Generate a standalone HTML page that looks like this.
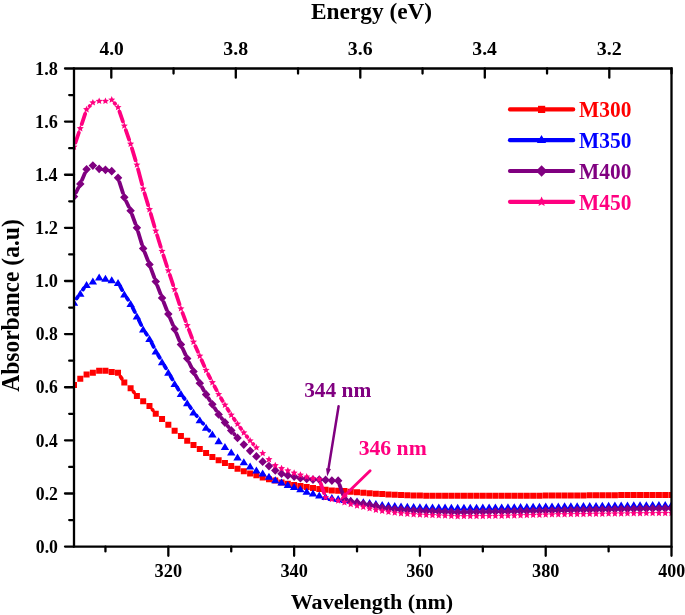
<!DOCTYPE html>
<html><head><meta charset="utf-8"><style>
html,body{margin:0;padding:0;background:#fff;}
body{width:685px;height:615px;overflow:hidden;font-family:"Liberation Serif",serif;}
svg{display:block;will-change:transform;}
</style></head><body><svg width="685" height="615" viewBox="0 0 685 615"><defs><clipPath id="c"><rect x="74.0" y="68.5" width="597.50" height="478.10"/></clipPath></defs><g clip-path="url(#c)"><path d="M120.53,376.66L121.81,378.64M133.49,391.78L134.01,392.42M152.41,409.64L152.83,410.16" fill="none" stroke="#FF0000" stroke-width="3.8" stroke-linecap="round"/><path d="M71.00,382.00h6.0v6.0h-6.0zM77.29,375.80h6.0v6.0h-6.0zM83.58,371.40h6.0v6.0h-6.0zM89.87,369.80h6.0v6.0h-6.0zM96.16,367.70h6.0v6.0h-6.0zM102.45,367.80h6.0v6.0h-6.0zM108.74,369.00h6.0v6.0h-6.0zM115.03,369.80h6.0v6.0h-6.0zM121.32,379.50h6.0v6.0h-6.0zM127.61,385.20h6.0v6.0h-6.0zM133.89,393.00h6.0v6.0h-6.0zM140.18,398.20h6.0v6.0h-6.0zM146.47,403.10h6.0v6.0h-6.0zM152.76,410.70h6.0v6.0h-6.0zM159.05,416.10h6.0v6.0h-6.0zM165.34,421.80h6.0v6.0h-6.0zM171.63,427.70h6.0v6.0h-6.0zM177.92,432.90h6.0v6.0h-6.0zM184.21,437.70h6.0v6.0h-6.0zM190.50,442.00h6.0v6.0h-6.0zM196.79,445.90h6.0v6.0h-6.0zM203.08,449.90h6.0v6.0h-6.0zM209.37,454.00h6.0v6.0h-6.0zM215.66,457.30h6.0v6.0h-6.0zM221.95,459.90h6.0v6.0h-6.0zM228.24,463.10h6.0v6.0h-6.0zM234.53,465.70h6.0v6.0h-6.0zM240.82,468.30h6.0v6.0h-6.0zM247.11,470.40h6.0v6.0h-6.0zM253.39,472.30h6.0v6.0h-6.0zM259.68,474.40h6.0v6.0h-6.0zM265.97,476.20h6.0v6.0h-6.0zM272.26,477.60h6.0v6.0h-6.0zM278.55,479.40h6.0v6.0h-6.0zM284.84,480.70h6.0v6.0h-6.0zM291.13,481.90h6.0v6.0h-6.0zM297.42,483.00h6.0v6.0h-6.0zM303.71,484.10h6.0v6.0h-6.0zM310.00,485.05h6.0v6.0h-6.0zM316.29,486.00h6.0v6.0h-6.0zM322.58,486.75h6.0v6.0h-6.0zM328.87,487.50h6.0v6.0h-6.0zM335.16,487.75h6.0v6.0h-6.0zM341.45,488.00h6.0v6.0h-6.0zM347.74,488.65h6.0v6.0h-6.0zM354.03,489.30h6.0v6.0h-6.0zM360.32,489.75h6.0v6.0h-6.0zM366.61,490.20h6.0v6.0h-6.0zM372.89,490.65h6.0v6.0h-6.0zM379.18,491.10h6.0v6.0h-6.0zM385.47,491.40h6.0v6.0h-6.0zM391.76,491.70h6.0v6.0h-6.0zM398.05,491.95h6.0v6.0h-6.0zM404.34,492.20h6.0v6.0h-6.0zM410.63,492.40h6.0v6.0h-6.0zM416.92,492.60h6.0v6.0h-6.0zM423.21,492.63h6.0v6.0h-6.0zM429.50,492.67h6.0v6.0h-6.0zM435.79,492.70h6.0v6.0h-6.0zM442.08,492.73h6.0v6.0h-6.0zM448.37,492.77h6.0v6.0h-6.0zM454.66,492.80h6.0v6.0h-6.0zM460.95,492.80h6.0v6.0h-6.0zM467.24,492.80h6.0v6.0h-6.0zM473.53,492.80h6.0v6.0h-6.0zM479.82,492.80h6.0v6.0h-6.0zM486.11,492.80h6.0v6.0h-6.0zM492.39,492.80h6.0v6.0h-6.0zM498.68,492.80h6.0v6.0h-6.0zM504.97,492.78h6.0v6.0h-6.0zM511.26,492.75h6.0v6.0h-6.0zM517.55,492.73h6.0v6.0h-6.0zM523.84,492.70h6.0v6.0h-6.0zM530.13,492.68h6.0v6.0h-6.0zM536.42,492.65h6.0v6.0h-6.0zM542.71,492.62h6.0v6.0h-6.0zM549.00,492.60h6.0v6.0h-6.0zM555.29,492.56h6.0v6.0h-6.0zM561.58,492.51h6.0v6.0h-6.0zM567.87,492.47h6.0v6.0h-6.0zM574.16,492.42h6.0v6.0h-6.0zM580.45,492.38h6.0v6.0h-6.0zM586.74,492.33h6.0v6.0h-6.0zM593.03,492.29h6.0v6.0h-6.0zM599.32,492.24h6.0v6.0h-6.0zM605.61,492.20h6.0v6.0h-6.0zM611.89,492.16h6.0v6.0h-6.0zM618.18,492.11h6.0v6.0h-6.0zM624.47,492.07h6.0v6.0h-6.0zM630.76,492.03h6.0v6.0h-6.0zM637.05,491.99h6.0v6.0h-6.0zM643.34,491.94h6.0v6.0h-6.0zM649.63,491.90h6.0v6.0h-6.0zM655.92,491.90h6.0v6.0h-6.0zM662.21,491.90h6.0v6.0h-6.0zM668.50,491.90h6.0v6.0h-6.0z" fill="#FF0000"/><path d="M76.63,298.53L77.65,297.07M82.94,289.54L83.92,288.16M120.20,286.45L122.14,290.05M126.86,297.94L128.07,299.76M132.67,307.71L134.83,311.99M138.90,320.24L141.18,324.96M145.72,332.94L146.93,334.76M151.55,342.70L153.68,346.90M158.08,354.98L159.74,357.82M164.43,365.74L165.96,368.26M170.59,376.21L172.38,379.39M177.05,387.32L178.51,389.68M183.54,397.38L184.60,398.92M189.79,406.51L190.92,408.19M196.41,415.56L196.88,416.14M202.75,423.22L203.12,423.68M209.20,430.58L209.24,430.62" fill="none" stroke="#0000FF" stroke-width="3.8" stroke-linecap="round"/><path d="M74.00,298.80L78.20,305.80L69.80,305.80zM80.29,289.80L84.49,296.80L76.09,296.80zM86.58,280.90L90.78,287.90L82.38,287.90zM92.87,277.50L97.07,284.50L88.67,284.50zM99.16,273.60L103.36,280.60L94.96,280.60zM105.45,274.70L109.65,281.70L101.25,281.70zM111.74,276.30L115.94,283.30L107.54,283.30zM118.03,278.90L122.23,285.90L113.83,285.90zM124.32,290.60L128.52,297.60L120.12,297.60zM130.61,300.10L134.81,307.10L126.41,307.10zM136.89,312.60L141.09,319.60L132.69,319.60zM143.18,325.60L147.38,332.60L138.98,332.60zM149.47,335.10L153.67,342.10L145.27,342.10zM155.76,347.50L159.96,354.50L151.56,354.50zM162.05,358.30L166.25,365.30L157.85,365.30zM168.34,368.70L172.54,375.70L164.14,375.70zM174.63,379.90L178.83,386.90L170.43,386.90zM180.92,390.10L185.12,397.10L176.72,397.10zM187.21,399.20L191.41,406.20L183.01,406.20zM193.50,408.50L197.70,415.50L189.30,415.50zM199.79,416.20L203.99,423.20L195.59,423.20zM206.08,423.70L210.28,430.70L201.88,430.70zM212.37,430.50L216.57,437.50L208.17,437.50zM218.66,437.20L222.86,444.20L214.46,444.20zM224.95,442.90L229.15,449.90L220.75,449.90zM231.24,448.50L235.44,455.50L227.04,455.50zM237.53,453.50L241.73,460.50L233.33,460.50zM243.82,458.20L248.02,465.20L239.62,465.20zM250.11,462.60L254.31,469.60L245.91,469.60zM256.39,466.40L260.59,473.40L252.19,473.40zM262.68,469.60L266.88,476.60L258.48,476.60zM268.97,472.70L273.17,479.70L264.77,479.70zM275.26,476.20L279.46,483.20L271.06,483.20zM281.55,478.60L285.75,485.60L277.35,485.60zM287.84,481.10L292.04,488.10L283.64,488.10zM294.13,483.00L298.33,490.00L289.93,490.00zM300.42,485.20L304.62,492.20L296.22,492.20zM306.71,487.80L310.91,494.80L302.51,494.80zM313.00,489.60L317.20,496.60L308.80,496.60zM319.29,491.50L323.49,498.50L315.09,498.50zM325.58,493.00L329.78,500.00L321.38,500.00zM331.87,494.00L336.07,501.00L327.67,501.00zM338.16,495.00L342.36,502.00L333.96,502.00zM344.45,495.90L348.65,502.90L340.25,502.90zM350.74,496.80L354.94,503.80L346.54,503.80zM357.03,497.60L361.23,504.60L352.83,504.60zM363.32,498.35L367.52,505.35L359.12,505.35zM369.61,499.10L373.81,506.10L365.41,506.10zM375.89,500.10L380.09,507.10L371.69,507.10zM382.18,501.10L386.38,508.10L377.98,508.10zM388.47,501.60L392.67,508.60L384.27,508.60zM394.76,502.10L398.96,509.10L390.56,509.10zM401.05,502.40L405.25,509.40L396.85,509.40zM407.34,502.70L411.54,509.70L403.14,509.70zM413.63,502.95L417.83,509.95L409.43,509.95zM419.92,503.20L424.12,510.20L415.72,510.20zM426.21,503.30L430.41,510.30L422.01,510.30zM432.50,503.40L436.70,510.40L428.30,510.40zM438.79,503.50L442.99,510.50L434.59,510.50zM445.08,503.60L449.28,510.60L440.88,510.60zM451.37,503.70L455.57,510.70L447.17,510.70zM457.66,503.80L461.86,510.80L453.46,510.80zM463.95,503.74L468.15,510.74L459.75,510.74zM470.24,503.69L474.44,510.69L466.04,510.69zM476.53,503.63L480.73,510.63L472.33,510.63zM482.82,503.57L487.02,510.57L478.62,510.57zM489.11,503.51L493.31,510.51L484.91,510.51zM495.39,503.46L499.59,510.46L491.19,510.46zM501.68,503.40L505.88,510.40L497.48,510.40zM507.97,503.29L512.17,510.29L503.77,510.29zM514.26,503.17L518.46,510.17L510.06,510.17zM520.55,503.06L524.75,510.06L516.35,510.06zM526.84,502.95L531.04,509.95L522.64,509.95zM533.13,502.84L537.33,509.84L528.93,509.84zM539.42,502.73L543.62,509.73L535.22,509.73zM545.71,502.61L549.91,509.61L541.51,509.61zM552.00,502.50L556.20,509.50L547.80,509.50zM558.29,502.41L562.49,509.41L554.09,509.41zM564.58,502.32L568.78,509.32L560.38,509.32zM570.87,502.23L575.07,509.23L566.67,509.23zM577.16,502.14L581.36,509.14L572.96,509.14zM583.45,502.06L587.65,509.06L579.25,509.06zM589.74,501.97L593.94,508.97L585.54,508.97zM596.03,501.88L600.23,508.88L591.83,508.88zM602.32,501.79L606.52,508.79L598.12,508.79zM608.61,501.70L612.81,508.70L604.41,508.70zM614.89,501.61L619.09,508.61L610.69,508.61zM621.18,501.53L625.38,508.53L616.98,508.53zM627.47,501.44L631.67,508.44L623.27,508.44zM633.76,501.36L637.96,508.36L629.56,508.36zM640.05,501.27L644.25,508.27L635.85,508.27zM646.34,501.19L650.54,508.19L642.14,508.19zM652.63,501.10L656.83,508.10L648.43,508.10zM658.92,501.07L663.12,508.07L654.72,508.07zM665.21,501.03L669.41,508.03L661.01,508.03zM671.50,501.00L675.70,508.00L667.30,508.00z" fill="#0000FF"/><path d="M76.04,192.48L78.25,188.02M82.11,179.68L84.76,173.52M119.44,182.18L122.90,192.92M126.27,201.46L128.65,206.54M132.19,215.02L135.31,223.48M138.23,232.20L141.85,244.10M144.87,252.78L147.79,260.22M151.06,268.82L154.18,277.28M157.42,285.89L160.40,293.61M163.72,302.19L166.68,309.81M170.13,318.34L172.84,324.76M176.36,333.26L179.19,340.24M182.79,348.70L185.34,354.40M189.23,362.73L191.48,367.37M195.68,375.55L197.61,379.15M202.03,387.22L203.84,390.48M208.56,398.37L209.88,400.43M214.80,408.20L216.23,410.50M221.48,418.03L222.13,418.87M227.79,426.12L228.39,426.88M234.22,434.01L234.55,434.39M339.65,485.05L342.95,494.65" fill="none" stroke="#800080" stroke-width="3.8" stroke-linecap="round"/><path d="M74.00,192.20L78.25,196.60L74.00,201.00L69.75,196.60zM80.29,179.50L84.54,183.90L80.29,188.30L76.04,183.90zM86.58,164.90L90.83,169.30L86.58,173.70L82.33,169.30zM92.87,161.20L97.12,165.60L92.87,170.00L88.62,165.60zM99.16,164.40L103.41,168.80L99.16,173.20L94.91,168.80zM105.45,165.40L109.70,169.80L105.45,174.20L101.20,169.80zM111.74,166.80L115.99,171.20L111.74,175.60L107.49,171.20zM118.03,173.40L122.28,177.80L118.03,182.20L113.78,177.80zM124.32,192.90L128.57,197.30L124.32,201.70L120.07,197.30zM130.61,206.30L134.86,210.70L130.61,215.10L126.36,210.70zM136.89,223.40L141.14,227.80L136.89,232.20L132.64,227.80zM143.18,244.10L147.43,248.50L143.18,252.90L138.93,248.50zM149.47,260.10L153.72,264.50L149.47,268.90L145.22,264.50zM155.76,277.20L160.01,281.60L155.76,286.00L151.51,281.60zM162.05,293.50L166.30,297.90L162.05,302.30L157.80,297.90zM168.34,309.70L172.59,314.10L168.34,318.50L164.09,314.10zM174.63,324.60L178.88,329.00L174.63,333.40L170.38,329.00zM180.92,340.10L185.17,344.50L180.92,348.90L176.67,344.50zM187.21,354.20L191.46,358.60L187.21,363.00L182.96,358.60zM193.50,367.10L197.75,371.50L193.50,375.90L189.25,371.50zM199.79,378.80L204.04,383.20L199.79,387.60L195.54,383.20zM206.08,390.10L210.33,394.50L206.08,398.90L201.83,394.50zM212.37,399.90L216.62,404.30L212.37,408.70L208.12,404.30zM218.66,410.00L222.91,414.40L218.66,418.80L214.41,414.40zM224.95,418.10L229.20,422.50L224.95,426.90L220.70,422.50zM231.24,426.10L235.49,430.50L231.24,434.90L226.99,430.50zM237.53,433.50L241.78,437.90L237.53,442.30L233.28,437.90zM243.82,440.20L248.07,444.60L243.82,449.00L239.57,444.60zM250.11,446.40L254.36,450.80L250.11,455.20L245.86,450.80zM256.39,452.00L260.64,456.40L256.39,460.80L252.14,456.40zM262.68,457.30L266.93,461.70L262.68,466.10L258.43,461.70zM268.97,461.70L273.22,466.10L268.97,470.50L264.72,466.10zM275.26,466.00L279.51,470.40L275.26,474.80L271.01,470.40zM281.55,469.30L285.80,473.70L281.55,478.10L277.30,473.70zM287.84,471.00L292.09,475.40L287.84,479.80L283.59,475.40zM294.13,472.20L298.38,476.60L294.13,481.00L289.88,476.60zM300.42,473.80L304.67,478.20L300.42,482.60L296.17,478.20zM306.71,474.50L310.96,478.90L306.71,483.30L302.46,478.90zM313.00,475.20L317.25,479.60L313.00,484.00L308.75,479.60zM319.29,475.20L323.54,479.60L319.29,484.00L315.04,479.60zM325.58,475.50L329.83,479.90L325.58,484.30L321.33,479.90zM331.87,476.20L336.12,480.60L331.87,485.00L327.62,480.60zM338.16,476.30L342.41,480.70L338.16,485.10L333.91,480.70zM344.45,494.60L348.70,499.00L344.45,503.40L340.20,499.00zM350.74,497.00L354.99,501.40L350.74,505.80L346.49,501.40zM357.03,498.20L361.28,502.60L357.03,507.00L352.78,502.60zM363.32,499.40L367.57,503.80L363.32,508.20L359.07,503.80zM369.61,500.60L373.86,505.00L369.61,509.40L365.36,505.00zM375.89,501.60L380.14,506.00L375.89,510.40L371.64,506.00zM382.18,503.60L386.43,508.00L382.18,512.40L377.93,508.00zM388.47,504.25L392.72,508.65L388.47,513.05L384.22,508.65zM394.76,504.90L399.01,509.30L394.76,513.70L390.51,509.30zM401.05,505.35L405.30,509.75L401.05,514.15L396.80,509.75zM407.34,505.80L411.59,510.20L407.34,514.60L403.09,510.20zM413.63,506.15L417.88,510.55L413.63,514.95L409.38,510.55zM419.92,506.50L424.17,510.90L419.92,515.30L415.67,510.90zM426.21,506.73L430.46,511.13L426.21,515.53L421.96,511.13zM432.50,506.97L436.75,511.37L432.50,515.77L428.25,511.37zM438.79,507.20L443.04,511.60L438.79,516.00L434.54,511.60zM445.08,507.43L449.33,511.83L445.08,516.23L440.83,511.83zM451.37,507.67L455.62,512.07L451.37,516.47L447.12,512.07zM457.66,507.90L461.91,512.30L457.66,516.70L453.41,512.30zM463.95,507.80L468.20,512.20L463.95,516.60L459.70,512.20zM470.24,507.70L474.49,512.10L470.24,516.50L465.99,512.10zM476.53,507.60L480.78,512.00L476.53,516.40L472.28,512.00zM482.82,507.50L487.07,511.90L482.82,516.30L478.57,511.90zM489.11,507.40L493.36,511.80L489.11,516.20L484.86,511.80zM495.39,507.30L499.64,511.70L495.39,516.10L491.14,511.70zM501.68,507.20L505.93,511.60L501.68,516.00L497.43,511.60zM507.97,507.09L512.22,511.49L507.97,515.89L503.72,511.49zM514.26,506.98L518.51,511.38L514.26,515.77L510.01,511.38zM520.55,506.86L524.80,511.26L520.55,515.66L516.30,511.26zM526.84,506.75L531.09,511.15L526.84,515.55L522.59,511.15zM533.13,506.64L537.38,511.04L533.13,515.44L528.88,511.04zM539.42,506.53L543.67,510.93L539.42,515.33L535.17,510.93zM545.71,506.41L549.96,510.81L545.71,515.21L541.46,510.81zM552.00,506.30L556.25,510.70L552.00,515.10L547.75,510.70zM558.29,506.18L562.54,510.58L558.29,514.98L554.04,510.58zM564.58,506.06L568.83,510.46L564.58,514.86L560.33,510.46zM570.87,505.93L575.12,510.33L570.87,514.73L566.62,510.33zM577.16,505.81L581.41,510.21L577.16,514.61L572.91,510.21zM583.45,505.69L587.70,510.09L583.45,514.49L579.20,510.09zM589.74,505.57L593.99,509.97L589.74,514.37L585.49,509.97zM596.03,505.44L600.28,509.84L596.03,514.24L591.78,509.84zM602.32,505.32L606.57,509.72L602.32,514.12L598.07,509.72zM608.61,505.20L612.86,509.60L608.61,514.00L604.36,509.60zM614.89,505.07L619.14,509.47L614.89,513.87L610.64,509.47zM621.18,504.94L625.43,509.34L621.18,513.74L616.93,509.34zM627.47,504.81L631.72,509.21L627.47,513.61L623.22,509.21zM633.76,504.69L638.01,509.09L633.76,513.49L629.51,509.09zM640.05,504.56L644.30,508.96L640.05,513.36L635.80,508.96zM646.34,504.43L650.59,508.83L646.34,513.23L642.09,508.83zM652.63,504.30L656.88,508.70L652.63,513.10L648.38,508.70zM658.92,504.20L663.17,508.60L658.92,513.00L654.67,508.60zM665.21,504.10L669.46,508.50L665.21,512.90L660.96,508.50zM671.50,504.00L675.75,508.40L671.50,512.80L667.25,508.40z" fill="#800080"/><path d="M75.47,142.64L78.82,132.76M81.74,124.04L85.13,113.86M89.68,106.10L89.77,106.00M114.69,103.32L115.07,103.78M119.51,111.66L122.84,121.44M125.82,130.15L129.10,139.65M131.94,148.40L135.56,160.40M138.06,169.25L142.02,184.35M144.52,193.20L148.14,205.10M150.77,213.91L154.47,226.49M157.13,235.29L160.69,246.71M163.46,255.48L166.93,266.22M169.79,274.96L173.18,285.14M176.07,293.87L179.48,304.23M182.53,312.91L185.60,321.09M188.84,329.70L191.87,337.70M195.40,346.19L197.89,351.71M201.64,360.11L204.23,365.99M208.19,374.29L210.26,378.31M214.52,386.47L216.51,390.23M221.01,398.26L222.60,400.94M227.40,408.79L228.79,411.01M233.85,418.68L234.91,420.22M240.22,427.73L241.12,428.97M246.68,436.30L247.24,437.00M253.18,444.02L253.32,444.18M320.80,483.65L324.07,493.05" fill="none" stroke="#FF0080" stroke-width="3.8" stroke-linecap="round"/><path d="M74.00,143.30 L75.02,145.59 L77.52,145.86 L75.65,147.54 L76.17,149.99 L74.00,148.74 L71.83,149.99 L72.35,147.54 L70.48,145.86 L72.98,145.59zM80.29,124.70 L81.31,126.99 L83.81,127.26 L81.94,128.94 L82.46,131.39 L80.29,130.14 L78.11,131.39 L78.64,128.94 L76.77,127.26 L79.27,126.99zM86.58,105.80 L87.60,108.09 L90.10,108.36 L88.23,110.04 L88.75,112.49 L86.58,111.24 L84.40,112.49 L84.93,110.04 L83.06,108.36 L85.56,108.09zM92.87,98.90 L93.89,101.19 L96.39,101.46 L94.52,103.14 L95.04,105.59 L92.87,104.34 L90.69,105.59 L91.21,103.14 L89.35,101.46 L91.85,101.19zM99.16,97.40 L100.18,99.69 L102.68,99.96 L100.81,101.64 L101.33,104.09 L99.16,102.84 L96.98,104.09 L97.50,101.64 L95.64,99.96 L98.14,99.69zM105.45,97.40 L106.47,99.69 L108.97,99.96 L107.10,101.64 L107.62,104.09 L105.45,102.84 L103.27,104.09 L103.79,101.64 L101.93,99.96 L104.43,99.69zM111.74,96.10 L112.76,98.39 L115.26,98.66 L113.39,100.34 L113.91,102.79 L111.74,101.54 L109.56,102.79 L110.08,100.34 L108.22,98.66 L110.71,98.39zM118.03,103.60 L119.05,105.89 L121.55,106.16 L119.68,107.84 L120.20,110.29 L118.03,109.04 L115.85,110.29 L116.37,107.84 L114.51,106.16 L117.00,105.89zM124.32,122.10 L125.34,124.39 L127.83,124.66 L125.97,126.34 L126.49,128.79 L124.32,127.54 L122.14,128.79 L122.66,126.34 L120.80,124.66 L123.29,124.39zM130.61,140.30 L131.63,142.59 L134.12,142.86 L132.26,144.54 L132.78,146.99 L130.61,145.74 L128.43,146.99 L128.95,144.54 L127.09,142.86 L129.58,142.59zM136.89,161.10 L137.92,163.39 L140.41,163.66 L138.55,165.34 L139.07,167.79 L136.89,166.54 L134.72,167.79 L135.24,165.34 L133.38,163.66 L135.87,163.39zM143.18,185.10 L144.21,187.39 L146.70,187.66 L144.84,189.34 L145.36,191.79 L143.18,190.54 L141.01,191.79 L141.53,189.34 L139.67,187.66 L142.16,187.39zM149.47,205.80 L150.50,208.09 L152.99,208.36 L151.13,210.04 L151.65,212.49 L149.47,211.24 L147.30,212.49 L147.82,210.04 L145.95,208.36 L148.45,208.09zM155.76,227.20 L156.79,229.49 L159.28,229.76 L157.42,231.44 L157.94,233.89 L155.76,232.64 L153.59,233.89 L154.11,231.44 L152.24,229.76 L154.74,229.49zM162.05,247.40 L163.07,249.69 L165.57,249.96 L163.71,251.64 L164.23,254.09 L162.05,252.84 L159.88,254.09 L160.40,251.64 L158.53,249.96 L161.03,249.69zM168.34,266.90 L169.36,269.19 L171.86,269.46 L170.00,271.14 L170.52,273.59 L168.34,272.34 L166.17,273.59 L166.69,271.14 L164.82,269.46 L167.32,269.19zM174.63,285.80 L175.65,288.09 L178.15,288.36 L176.29,290.04 L176.81,292.49 L174.63,291.24 L172.46,292.49 L172.98,290.04 L171.11,288.36 L173.61,288.09zM180.92,304.90 L181.94,307.19 L184.44,307.46 L182.57,309.14 L183.10,311.59 L180.92,310.34 L178.75,311.59 L179.27,309.14 L177.40,307.46 L179.90,307.19zM187.21,321.70 L188.23,323.99 L190.73,324.26 L188.86,325.94 L189.39,328.39 L187.21,327.14 L185.04,328.39 L185.56,325.94 L183.69,324.26 L186.19,323.99zM193.50,338.30 L194.52,340.59 L197.02,340.86 L195.15,342.54 L195.67,344.99 L193.50,343.74 L191.33,344.99 L191.85,342.54 L189.98,340.86 L192.48,340.59zM199.79,352.20 L200.81,354.49 L203.31,354.76 L201.44,356.44 L201.96,358.89 L199.79,357.64 L197.61,358.89 L198.14,356.44 L196.27,354.76 L198.77,354.49zM206.08,366.50 L207.10,368.79 L209.60,369.06 L207.73,370.74 L208.25,373.19 L206.08,371.94 L203.90,373.19 L204.43,370.74 L202.56,369.06 L205.06,368.79zM212.37,378.70 L213.39,380.99 L215.89,381.26 L214.02,382.94 L214.54,385.39 L212.37,384.14 L210.19,385.39 L210.71,382.94 L208.85,381.26 L211.35,380.99zM218.66,390.60 L219.68,392.89 L222.18,393.16 L220.31,394.84 L220.83,397.29 L218.66,396.04 L216.48,397.29 L217.00,394.84 L215.14,393.16 L217.64,392.89zM224.95,401.20 L225.97,403.49 L228.47,403.76 L226.60,405.44 L227.12,407.89 L224.95,406.64 L222.77,407.89 L223.29,405.44 L221.43,403.76 L223.93,403.49zM231.24,411.20 L232.26,413.49 L234.76,413.76 L232.89,415.44 L233.41,417.89 L231.24,416.64 L229.06,417.89 L229.58,415.44 L227.72,413.76 L230.21,413.49zM237.53,420.30 L238.55,422.59 L241.05,422.86 L239.18,424.54 L239.70,426.99 L237.53,425.74 L235.35,426.99 L235.87,424.54 L234.01,422.86 L236.50,422.59zM243.82,429.00 L244.84,431.29 L247.33,431.56 L245.47,433.24 L245.99,435.69 L243.82,434.44 L241.64,435.69 L242.16,433.24 L240.30,431.56 L242.79,431.29zM250.11,436.90 L251.13,439.19 L253.62,439.46 L251.76,441.14 L252.28,443.59 L250.11,442.34 L247.93,443.59 L248.45,441.14 L246.59,439.46 L249.08,439.19zM256.39,443.90 L257.42,446.19 L259.91,446.46 L258.05,448.14 L258.57,450.59 L256.39,449.34 L254.22,450.59 L254.74,448.14 L252.88,446.46 L255.37,446.19zM262.68,449.60 L263.71,451.89 L266.20,452.16 L264.34,453.84 L264.86,456.29 L262.68,455.04 L260.51,456.29 L261.03,453.84 L259.17,452.16 L261.66,451.89zM268.97,455.70 L270.00,457.99 L272.49,458.26 L270.63,459.94 L271.15,462.39 L268.97,461.14 L266.80,462.39 L267.32,459.94 L265.45,458.26 L267.95,457.99zM275.26,461.70 L276.29,463.99 L278.78,464.26 L276.92,465.94 L277.44,468.39 L275.26,467.14 L273.09,468.39 L273.61,465.94 L271.74,464.26 L274.24,463.99zM281.55,464.80 L282.57,467.09 L285.07,467.36 L283.21,469.04 L283.73,471.49 L281.55,470.24 L279.38,471.49 L279.90,469.04 L278.03,467.36 L280.53,467.09zM287.84,466.90 L288.86,469.19 L291.36,469.46 L289.50,471.14 L290.02,473.59 L287.84,472.34 L285.67,473.59 L286.19,471.14 L284.32,469.46 L286.82,469.19zM294.13,469.30 L295.15,471.59 L297.65,471.86 L295.79,473.54 L296.31,475.99 L294.13,474.74 L291.96,475.99 L292.48,473.54 L290.61,471.86 L293.11,471.59zM300.42,471.20 L301.44,473.49 L303.94,473.76 L302.07,475.44 L302.60,477.89 L300.42,476.64 L298.25,477.89 L298.77,475.44 L296.90,473.76 L299.40,473.49zM306.71,473.10 L307.73,475.39 L310.23,475.66 L308.36,477.34 L308.89,479.79 L306.71,478.54 L304.54,479.79 L305.06,477.34 L303.19,475.66 L305.69,475.39zM313.00,474.80 L314.02,477.09 L316.52,477.36 L314.65,479.04 L315.17,481.49 L313.00,480.24 L310.83,481.49 L311.35,479.04 L309.48,477.36 L311.98,477.09zM319.29,475.60 L320.31,477.89 L322.81,478.16 L320.94,479.84 L321.46,482.29 L319.29,481.04 L317.11,482.29 L317.64,479.84 L315.77,478.16 L318.27,477.89zM325.58,493.70 L326.60,495.99 L329.10,496.26 L327.23,497.94 L327.75,500.39 L325.58,499.14 L323.40,500.39 L323.93,497.94 L322.06,496.26 L324.56,495.99zM331.87,495.50 L332.89,497.79 L335.39,498.06 L333.52,499.74 L334.04,502.19 L331.87,500.94 L329.69,502.19 L330.21,499.74 L328.35,498.06 L330.85,497.79zM338.16,497.10 L339.18,499.39 L341.68,499.66 L339.81,501.34 L340.33,503.79 L338.16,502.54 L335.98,503.79 L336.50,501.34 L334.64,499.66 L337.14,499.39zM344.45,498.80 L345.47,501.09 L347.97,501.36 L346.10,503.04 L346.62,505.49 L344.45,504.24 L342.27,505.49 L342.79,503.04 L340.93,501.36 L343.43,501.09zM350.74,500.50 L351.76,502.79 L354.26,503.06 L352.39,504.74 L352.91,507.19 L350.74,505.94 L348.56,507.19 L349.08,504.74 L347.22,503.06 L349.71,502.79zM357.03,502.10 L358.05,504.39 L360.55,504.66 L358.68,506.34 L359.20,508.79 L357.03,507.54 L354.85,508.79 L355.37,506.34 L353.51,504.66 L356.00,504.39zM363.32,503.30 L364.34,505.59 L366.83,505.86 L364.97,507.54 L365.49,509.99 L363.32,508.74 L361.14,509.99 L361.66,507.54 L359.80,505.86 L362.29,505.59zM369.61,504.90 L370.63,507.19 L373.12,507.46 L371.26,509.14 L371.78,511.59 L369.61,510.34 L367.43,511.59 L367.95,509.14 L366.09,507.46 L368.58,507.19zM375.89,506.30 L376.92,508.59 L379.41,508.86 L377.55,510.54 L378.07,512.99 L375.89,511.74 L373.72,512.99 L374.24,510.54 L372.38,508.86 L374.87,508.59zM382.18,507.30 L383.21,509.59 L385.70,509.86 L383.84,511.54 L384.36,513.99 L382.18,512.74 L380.01,513.99 L380.53,511.54 L378.67,509.86 L381.16,509.59zM388.47,508.20 L389.50,510.49 L391.99,510.76 L390.13,512.44 L390.65,514.89 L388.47,513.64 L386.30,514.89 L386.82,512.44 L384.95,510.76 L387.45,510.49zM394.76,509.10 L395.79,511.39 L398.28,511.66 L396.42,513.34 L396.94,515.79 L394.76,514.54 L392.59,515.79 L393.11,513.34 L391.24,511.66 L393.74,511.39zM401.05,509.70 L402.07,511.99 L404.57,512.26 L402.71,513.94 L403.23,516.39 L401.05,515.14 L398.88,516.39 L399.40,513.94 L397.53,512.26 L400.03,511.99zM407.34,510.30 L408.36,512.59 L410.86,512.86 L409.00,514.54 L409.52,516.99 L407.34,515.74 L405.17,516.99 L405.69,514.54 L403.82,512.86 L406.32,512.59zM413.63,510.70 L414.65,512.99 L417.15,513.26 L415.29,514.94 L415.81,517.39 L413.63,516.14 L411.46,517.39 L411.98,514.94 L410.11,513.26 L412.61,512.99zM419.92,511.10 L420.94,513.39 L423.44,513.66 L421.57,515.34 L422.10,517.79 L419.92,516.54 L417.75,517.79 L418.27,515.34 L416.40,513.66 L418.90,513.39zM426.21,511.37 L427.23,513.66 L429.73,513.92 L427.86,515.60 L428.39,518.06 L426.21,516.81 L424.04,518.06 L424.56,515.60 L422.69,513.92 L425.19,513.66zM432.50,511.63 L433.52,513.93 L436.02,514.19 L434.15,515.87 L434.67,518.33 L432.50,517.07 L430.33,518.33 L430.85,515.87 L428.98,514.19 L431.48,513.93zM438.79,511.90 L439.81,514.19 L442.31,514.46 L440.44,516.14 L440.96,518.59 L438.79,517.34 L436.61,518.59 L437.14,516.14 L435.27,514.46 L437.77,514.19zM445.08,512.17 L446.10,514.46 L448.60,514.72 L446.73,516.40 L447.25,518.86 L445.08,517.61 L442.90,518.86 L443.43,516.40 L441.56,514.72 L444.06,514.46zM451.37,512.43 L452.39,514.73 L454.89,514.99 L453.02,516.67 L453.54,519.13 L451.37,517.87 L449.19,519.13 L449.71,516.67 L447.85,514.99 L450.35,514.73zM457.66,512.70 L458.68,514.99 L461.18,515.26 L459.31,516.94 L459.83,519.39 L457.66,518.14 L455.48,519.39 L456.00,516.94 L454.14,515.26 L456.64,514.99zM463.95,512.64 L464.97,514.94 L467.47,515.20 L465.60,516.88 L466.12,519.34 L463.95,518.08 L461.77,519.34 L462.29,516.88 L460.43,515.20 L462.93,514.94zM470.24,512.59 L471.26,514.88 L473.76,515.14 L471.89,516.82 L472.41,519.28 L470.24,518.02 L468.06,519.28 L468.58,516.82 L466.72,515.14 L469.21,514.88zM476.53,512.53 L477.55,514.82 L480.05,515.09 L478.18,516.77 L478.70,519.22 L476.53,517.97 L474.35,519.22 L474.87,516.77 L473.01,515.09 L475.50,514.82zM482.82,512.47 L483.84,514.76 L486.33,515.03 L484.47,516.71 L484.99,519.16 L482.82,517.91 L480.64,519.16 L481.16,516.71 L479.30,515.03 L481.79,514.76zM489.11,512.41 L490.13,514.71 L492.62,514.97 L490.76,516.65 L491.28,519.11 L489.11,517.85 L486.93,519.11 L487.45,516.65 L485.59,514.97 L488.08,514.71zM495.39,512.36 L496.42,514.65 L498.91,514.91 L497.05,516.59 L497.57,519.05 L495.39,517.80 L493.22,519.05 L493.74,516.59 L491.88,514.91 L494.37,514.65zM501.68,512.30 L502.71,514.59 L505.20,514.86 L503.34,516.54 L503.86,518.99 L501.68,517.74 L499.51,518.99 L500.03,516.54 L498.17,514.86 L500.66,514.59zM507.97,512.12 L509.00,514.42 L511.49,514.68 L509.63,516.36 L510.15,518.82 L507.97,517.56 L505.80,518.82 L506.32,516.36 L504.45,514.68 L506.95,514.42zM514.26,511.95 L515.29,514.24 L517.78,514.51 L515.92,516.19 L516.44,518.64 L514.26,517.39 L512.09,518.64 L512.61,516.19 L510.74,514.51 L513.24,514.24zM520.55,511.78 L521.57,514.07 L524.07,514.33 L522.21,516.01 L522.73,518.47 L520.55,517.21 L518.38,518.47 L518.90,516.01 L517.03,514.33 L519.53,514.07zM526.84,511.60 L527.86,513.89 L530.36,514.16 L528.50,515.84 L529.02,518.29 L526.84,517.04 L524.67,518.29 L525.19,515.84 L523.32,514.16 L525.82,513.89zM533.13,511.43 L534.15,513.72 L536.65,513.98 L534.79,515.66 L535.31,518.12 L533.13,516.86 L530.96,518.12 L531.48,515.66 L529.61,513.98 L532.11,513.72zM539.42,511.25 L540.44,513.54 L542.94,513.81 L541.07,515.49 L541.60,517.94 L539.42,516.69 L537.25,517.94 L537.77,515.49 L535.90,513.81 L538.40,513.54zM545.71,511.07 L546.73,513.37 L549.23,513.63 L547.36,515.31 L547.89,517.77 L545.71,516.51 L543.54,517.77 L544.06,515.31 L542.19,513.63 L544.69,513.37zM552.00,510.90 L553.02,513.19 L555.52,513.46 L553.65,515.14 L554.17,517.59 L552.00,516.34 L549.83,517.59 L550.35,515.14 L548.48,513.46 L550.98,513.19zM558.29,510.81 L559.31,513.10 L561.81,513.37 L559.94,515.05 L560.46,517.50 L558.29,516.25 L556.11,517.50 L556.64,515.05 L554.77,513.37 L557.27,513.10zM564.58,510.72 L565.60,513.02 L568.10,513.28 L566.23,514.96 L566.75,517.42 L564.58,516.16 L562.40,517.42 L562.93,514.96 L561.06,513.28 L563.56,513.02zM570.87,510.63 L571.89,512.93 L574.39,513.19 L572.52,514.87 L573.04,517.33 L570.87,516.07 L568.69,517.33 L569.21,514.87 L567.35,513.19 L569.85,512.93zM577.16,510.54 L578.18,512.84 L580.68,513.10 L578.81,514.78 L579.33,517.24 L577.16,515.98 L574.98,517.24 L575.50,514.78 L573.64,513.10 L576.14,512.84zM583.45,510.46 L584.47,512.75 L586.97,513.01 L585.10,514.69 L585.62,517.15 L583.45,515.89 L581.27,517.15 L581.79,514.69 L579.93,513.01 L582.43,512.75zM589.74,510.37 L590.76,512.66 L593.26,512.92 L591.39,514.60 L591.91,517.06 L589.74,515.81 L587.56,517.06 L588.08,514.60 L586.22,512.92 L588.71,512.66zM596.03,510.28 L597.05,512.57 L599.55,512.83 L597.68,514.52 L598.20,516.97 L596.03,515.72 L593.85,516.97 L594.37,514.52 L592.51,512.83 L595.00,512.57zM602.32,510.19 L603.34,512.48 L605.83,512.75 L603.97,514.43 L604.49,516.88 L602.32,515.63 L600.14,516.88 L600.66,514.43 L598.80,512.75 L601.29,512.48zM608.61,510.10 L609.63,512.39 L612.12,512.66 L610.26,514.34 L610.78,516.79 L608.61,515.54 L606.43,516.79 L606.95,514.34 L605.09,512.66 L607.58,512.39zM614.89,510.03 L615.92,512.32 L618.41,512.59 L616.55,514.27 L617.07,516.72 L614.89,515.47 L612.72,516.72 L613.24,514.27 L611.38,512.59 L613.87,512.32zM621.18,509.96 L622.21,512.25 L624.70,512.51 L622.84,514.19 L623.36,516.65 L621.18,515.40 L619.01,516.65 L619.53,514.19 L617.67,512.51 L620.16,512.25zM627.47,509.89 L628.50,512.18 L630.99,512.44 L629.13,514.12 L629.65,516.58 L627.47,515.32 L625.30,516.58 L625.82,514.12 L623.95,512.44 L626.45,512.18zM633.76,509.81 L634.79,512.11 L637.28,512.37 L635.42,514.05 L635.94,516.51 L633.76,515.25 L631.59,516.51 L632.11,514.05 L630.24,512.37 L632.74,512.11zM640.05,509.74 L641.07,512.04 L643.57,512.30 L641.71,513.98 L642.23,516.44 L640.05,515.18 L637.88,516.44 L638.40,513.98 L636.53,512.30 L639.03,512.04zM646.34,509.67 L647.36,511.96 L649.86,512.23 L648.00,513.91 L648.52,516.36 L646.34,515.11 L644.17,516.36 L644.69,513.91 L642.82,512.23 L645.32,511.96zM652.63,509.60 L653.65,511.89 L656.15,512.16 L654.29,513.84 L654.81,516.29 L652.63,515.04 L650.46,516.29 L650.98,513.84 L649.11,512.16 L651.61,511.89zM658.92,509.57 L659.94,511.86 L662.44,512.12 L660.57,513.80 L661.10,516.26 L658.92,515.01 L656.75,516.26 L657.27,513.80 L655.40,512.12 L657.90,511.86zM665.21,509.53 L666.23,511.83 L668.73,512.09 L666.86,513.77 L667.39,516.23 L665.21,514.97 L663.04,516.23 L663.56,513.77 L661.69,512.09 L664.19,511.83zM671.50,509.50 L672.52,511.79 L675.02,512.06 L673.15,513.74 L673.67,516.19 L671.50,514.94 L669.33,516.19 L669.85,513.74 L667.98,512.06 L670.48,511.79z" fill="#FF0080"/></g><path d="M74.0,68.5H671.5V546.6H74.0Z" fill="none" stroke="#000" stroke-width="2.3" stroke-linejoin="miter" stroke-linecap="square"/><path d="M105.45,546.6v4.8 M168.34,546.6v9.2 M231.24,546.6v4.8 M294.13,546.6v9.2 M357.03,546.6v4.8 M419.92,546.6v9.2 M482.82,546.6v4.8 M545.71,546.6v9.2 M608.61,546.6v4.8 M671.50,546.6v9.2 M74.0,546.60h-9.0 M74.0,520.04h-4.8 M74.0,493.48h-9.0 M74.0,466.92h-4.8 M74.0,440.36h-9.0 M74.0,413.79h-4.8 M74.0,387.23h-9.0 M74.0,360.67h-4.8 M74.0,334.11h-9.0 M74.0,307.55h-4.8 M74.0,280.99h-9.0 M74.0,254.43h-4.8 M74.0,227.87h-9.0 M74.0,201.31h-4.8 M74.0,174.74h-9.0 M74.0,148.18h-4.8 M74.0,121.62h-9.0 M74.0,95.06h-4.8 M74.0,68.50h-9.0 M111.30,68.5v9.2 M173.55,68.5v5.0 M235.80,68.5v9.2 M298.05,68.5v5.0 M360.30,68.5v9.2 M422.55,68.5v5.0 M484.80,68.5v9.2 M547.05,68.5v5.0 M609.30,68.5v9.2 M671.55,68.5v5.0" stroke="#000" stroke-width="2.3" fill="none" stroke-linecap="round"/><text transform="translate(35.79,552.80) scale(0.9357,1)" font-size="19.0" fill="#000" font-family="Liberation Serif" font-weight="bold">0.0</text><text transform="translate(35.79,499.68) scale(0.9357,1)" font-size="19.0" fill="#000" font-family="Liberation Serif" font-weight="bold">0.2</text><text transform="translate(35.80,446.56) scale(0.9199,1)" font-size="19.0" fill="#000" font-family="Liberation Serif" font-weight="bold">0.4</text><text transform="translate(35.79,393.43) scale(0.9277,1)" font-size="19.0" fill="#000" font-family="Liberation Serif" font-weight="bold">0.6</text><text transform="translate(35.79,340.31) scale(0.9277,1)" font-size="19.0" fill="#000" font-family="Liberation Serif" font-weight="bold">0.8</text><text transform="translate(35.03,287.19) scale(0.9688,1)" font-size="19.0" fill="#000" font-family="Liberation Serif" font-weight="bold">1.0</text><text transform="translate(35.03,234.07) scale(0.9688,1)" font-size="19.0" fill="#000" font-family="Liberation Serif" font-weight="bold">1.2</text><text transform="translate(35.05,180.94) scale(0.9519,1)" font-size="19.0" fill="#000" font-family="Liberation Serif" font-weight="bold">1.4</text><text transform="translate(35.04,127.82) scale(0.9603,1)" font-size="19.0" fill="#000" font-family="Liberation Serif" font-weight="bold">1.6</text><text transform="translate(35.04,74.70) scale(0.9603,1)" font-size="19.0" fill="#000" font-family="Liberation Serif" font-weight="bold">1.8</text><text transform="translate(154.61,576.60) scale(0.9637,1)" font-size="19.0" fill="#000" font-family="Liberation Serif" font-weight="bold">320</text><text transform="translate(280.40,576.60) scale(0.9637,1)" font-size="19.0" fill="#000" font-family="Liberation Serif" font-weight="bold">340</text><text transform="translate(406.19,576.60) scale(0.9637,1)" font-size="19.0" fill="#000" font-family="Liberation Serif" font-weight="bold">360</text><text transform="translate(531.98,576.60) scale(0.9637,1)" font-size="19.0" fill="#000" font-family="Liberation Serif" font-weight="bold">380</text><text transform="translate(658.32,576.60) scale(0.9437,1)" font-size="19.0" fill="#000" font-family="Liberation Serif" font-weight="bold">400</text><text transform="translate(99.41,54.50) scale(1.0263,1)" font-size="19.0" fill="#000" font-family="Liberation Serif" font-weight="bold">4.0</text><text transform="translate(223.31,54.50) scale(1.0437,1)" font-size="19.0" fill="#000" font-family="Liberation Serif" font-weight="bold">3.8</text><text transform="translate(347.81,54.50) scale(1.0437,1)" font-size="19.0" fill="#000" font-family="Liberation Serif" font-weight="bold">3.6</text><text transform="translate(472.31,54.50) scale(1.0349,1)" font-size="19.0" fill="#000" font-family="Liberation Serif" font-weight="bold">3.4</text><text transform="translate(596.80,54.50) scale(1.0526,1)" font-size="19.0" fill="#000" font-family="Liberation Serif" font-weight="bold">3.2</text><text transform="translate(311.03,18.80) scale(1.0014,1)" font-size="23.3" fill="#000" font-family="Liberation Serif" font-weight="bold">Energy (eV)</text><text transform="translate(290.78,608.50) scale(1.0082,1)" font-size="21.9" fill="#000" font-family="Liberation Serif" font-weight="bold">Wavelength (nm)</text><text transform="translate(19.40,391.60) rotate(-90) scale(0.9729,1) translate(-0.24,0)" font-size="24.2" font-family="Liberation Serif" font-weight="bold">Absorbance (a.u)</text><path d="M510.0,109.40H573.2" stroke="#FF0000" stroke-width="4.2" stroke-linecap="round"/><path d="M538.00,105.80h7.2v7.2h-7.2z" fill="#FF0000"/><text transform="translate(579.07,117.30) scale(0.9693,1)" font-size="22.1" fill="#FF0000" font-family="Liberation Serif" font-weight="bold">M300</text><path d="M510.0,140.20H573.2" stroke="#0000FF" stroke-width="4.2" stroke-linecap="round"/><path d="M541.50,134.90L546.15,143.10L536.85,143.10z" fill="#0000FF"/><text transform="translate(579.07,148.10) scale(0.9693,1)" font-size="22.1" fill="#0000FF" font-family="Liberation Serif" font-weight="bold">M350</text><path d="M510.0,171.00H573.2" stroke="#800080" stroke-width="4.2" stroke-linecap="round"/><path d="M541.60,165.35L547.30,171.00L541.60,176.65L535.90,171.00z" fill="#800080"/><text transform="translate(579.07,178.90) scale(0.9693,1)" font-size="22.1" fill="#800080" font-family="Liberation Serif" font-weight="bold">M400</text><path d="M510.0,201.80H573.2" stroke="#FF0080" stroke-width="4.2" stroke-linecap="round"/><path d="M541.60,196.60 L543.04,199.82 L546.55,200.19 L543.92,202.56 L544.66,206.01 L541.60,204.24 L538.54,206.01 L539.28,202.56 L536.65,200.19 L540.16,199.82z" fill="#FF0080"/><text transform="translate(579.07,209.70) scale(0.9693,1)" font-size="22.1" fill="#FF0080" font-family="Liberation Serif" font-weight="bold">M450</text><text transform="translate(304.14,397.10) scale(0.9967,1)" font-size="21.5" fill="#800080" font-family="Liberation Serif" font-weight="bold">344 nm</text><text transform="translate(358.73,455.00) scale(1.0072,1)" font-size="21.5" fill="#FF0080" font-family="Liberation Serif" font-weight="bold">346 nm</text><path d="M338.60,406.30L328.24,470.08" stroke="#800080" stroke-width="2.5" stroke-linecap="round" fill="none"/><path d="M327.20,476.50L326.01,468.20L330.95,469.00Z" fill="#800080"/><path d="M370.10,470.70L344.91,495.31" stroke="#FF0080" stroke-width="2.9" stroke-linecap="round" fill="none"/><path d="M339.90,500.20L344.02,492.26L347.94,496.26Z" fill="#FF0080"/></svg></body></html>
